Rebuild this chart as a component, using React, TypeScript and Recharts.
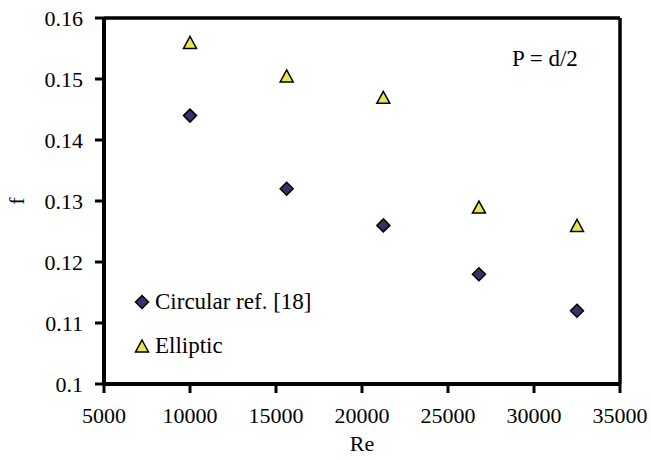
import React from 'react';
import { ScatterChart, Scatter, XAxis, YAxis, ReferenceLine, Legend, Label } from 'recharts';

const reCircular = [10000, 15620, 21240, 26800, 32500];
const fCircular = [0.144, 0.132, 0.126, 0.118, 0.112];
const reElliptic = [10000, 15620, 21240, 26800, 32500];
const fElliptic = [0.156, 0.1505, 0.147, 0.129, 0.126];
const xTicks = [5000, 10000, 15000, 20000, 25000, 30000, 35000];
const yTicks = [0.1, 0.11, 0.12, 0.13, 0.14, 0.15, 0.16];
const seriesNames = ['Circular ref. [18]', 'Elliptic'];
const annotation = 'P = d/2';

const circularData = reCircular.map((re, i) => ({ re, f: fCircular[i] }));
const ellipticData = reElliptic.map((re, i) => ({ re, f: fElliptic[i] }));

const FONT = "'Liberation Serif', 'Times New Roman', Tinos, FreeSerif, serif";
const NAVY = '#333366';
const YELLOW = '#E6E64E';

const Diamond = (props: any) => {
  const { cx, cy } = props;
  const r = 6.5;
  return (
    <polygon
      points={`${cx},${cy - r} ${cx + r},${cy} ${cx},${cy + r} ${cx - r},${cy}`}
      fill={NAVY}
      stroke="#000"
      strokeWidth={1.5}
    />
  );
};

const Triangle = (props: any) => {
  const { cx, cy } = props;
  const w = 6.5;
  const h = 6;
  return (
    <polygon
      points={`${cx},${cy - h} ${cx + w},${cy + h} ${cx - w},${cy + h}`}
      fill={YELLOW}
      stroke="#000"
      strokeWidth={1.5}
    />
  );
};

const LegendContent = () => (
  <div style={{ fontFamily: FONT, fontSize: 23, color: '#000', lineHeight: '30px' }}>
    <div style={{ display: 'flex', alignItems: 'center', height: 30, marginBottom: 14 }}>
      <svg width={16} height={16} style={{ marginRight: 5 }}>
        <polygon points="8,1.5 14.5,8 8,14.5 1.5,8" fill={NAVY} stroke="#000" strokeWidth={1.5} />
      </svg>
      <span>{seriesNames[0]}</span>
    </div>
    <div style={{ display: 'flex', alignItems: 'center', height: 30 }}>
      <svg width={16} height={16} style={{ marginRight: 5 }}>
        <polygon points="8,2 14.5,14 1.5,14" fill={YELLOW} stroke="#000" strokeWidth={1.5} />
      </svg>
      <span>{seriesNames[1]}</span>
    </div>
  </div>
);

const TickText = (props: any) => {
  const { x, y, payload, textAnchor, verticalAnchor } = props;
  const dy = verticalAnchor === 'start' ? '0.71em' : '0.355em';
  return (
    <text x={x} y={y} dy={dy} textAnchor={textAnchor} fill="#000" style={{ fontFamily: FONT, fontSize: 22 }}>
      {String(payload.value)}
    </text>
  );
};

export default function App() {
  return (
    <div style={{ position: 'absolute', left: 0, top: 0, width: 651, height: 460, background: '#fff', fontFamily: FONT }}>
      <ScatterChart width={651} height={460} margin={{ top: 18, right: 31, left: 0, bottom: 0 }}>
        <XAxis
          type="number"
          dataKey="re"
          domain={[5000, 35000]}
          ticks={xTicks}
          interval={0}
          height={76}
          tickSize={9}
          tickMargin={14}
          axisLine={{ stroke: '#000', strokeWidth: 4 }}
          tickLine={{ stroke: '#000', strokeWidth: 3 }}
          tick={<TickText />}
        >
          <Label value="Re" position="center" dy={21} style={{ fill: '#000', fontSize: 22, fontFamily: FONT }} />
        </XAxis>
        <YAxis
          type="number"
          dataKey="f"
          domain={[0.1, 0.16]}
          ticks={yTicks}
          interval={0}
          width={104}
          tickSize={9}
          tickMargin={12}
          axisLine={{ stroke: '#000', strokeWidth: 4 }}
          tickLine={{ stroke: '#000', strokeWidth: 3 }}
          tick={<TickText />}
        >
          <Label value="f" angle={-90} position="center" dx={-36} style={{ fill: '#000', fontSize: 22, fontFamily: FONT }} />
        </YAxis>
        <ReferenceLine y={0.16} stroke="#000" strokeWidth={3.5} />
        <ReferenceLine x={35000} stroke="#000" strokeWidth={3.5} />
        <Scatter name={seriesNames[0]} data={circularData} shape={<Diamond />} isAnimationActive={false} />
        <Scatter name={seriesNames[1]} data={ellipticData} shape={<Triangle />} isAnimationActive={false} />
        <Legend
          content={<LegendContent />}
          layout="vertical"
          verticalAlign="middle"
          align="center"
          wrapperStyle={{ position: 'absolute', left: 134, top: 287, width: 'auto' }}
        />
      </ScatterChart>
      <div
        style={{
          position: 'absolute',
          left: 512,
          top: 45,
          fontFamily: FONT,
          fontSize: 23,
          lineHeight: '28px',
          color: '#000',
          whiteSpace: 'pre',
        }}
      >
        {annotation}
      </div>
    </div>
  );
}
